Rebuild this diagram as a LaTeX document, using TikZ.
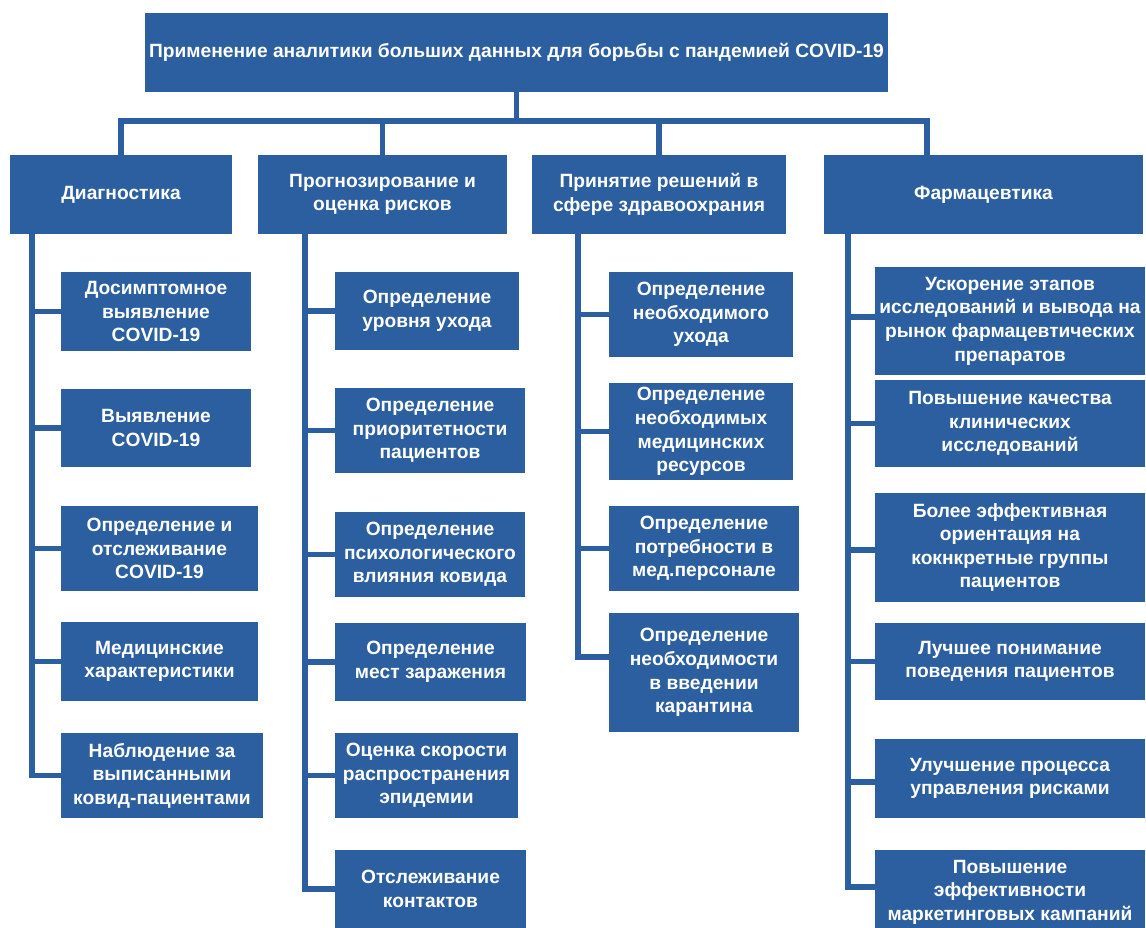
\documentclass[tikz,border=0pt]{standalone}
\usepackage{fontspec}
\setmainfont{Liberation Sans}
\definecolor{boxblue}{RGB}{44,95,160}
\tikzset{
  box/.style={fill=boxblue, text=white, inner sep=0pt, align=center,
    font=\fontsize{19.2}{23.6}\selectfont\bfseries},
  sz/.style 2 args={minimum width=#1, minimum height=#2},
  conn/.style={draw=boxblue, line width=5.5pt, line cap=rect, line join=miter}
}
\begin{document}
\begin{tikzpicture}[x=1pt,y=-1pt]
\useasboundingbox (0,0) rectangle (1146,928);
\clip (0,0) rectangle (1146,928);
% title
\node[box, sz={743pt}{79pt}] (title) at (516.5,52.5) {\raisebox{5pt}{Применение аналитики больших данных для борьбы с пандемией COVID-19}};
% level 2
\node[box, sz={222pt}{79pt}] (diag) at (121,194.5) {Диагностика};
\node[box, sz={249pt}{79pt}] (prog) at (382.5,194.5) {Прогнозирование и\\оценка рисков};
\node[box, sz={254pt}{79pt}] (prin) at (659,194.5) {Принятие решений в\\сфере здравоохрания};
\node[box, sz={319pt}{79pt}] (farm) at (983.5,194.5) {Фармацевтика};
\coordinate (bar) at (516.5,121);
% diag children
\node[box, sz={190pt}{79pt}] (d1) at (156,311.5) {Досимптомное\\выявление\\COVID-19};
\node[box, sz={190pt}{78pt}] (d2) at (156,428) {Выявление\\COVID-19};
\node[box, sz={197pt}{85pt}] (d3) at (159.5,548.5) {Определение и\\отслеживание\\COVID-19};
\node[box, sz={197pt}{79pt}] (d4) at (159.5,661.5) {Медицинские\\характеристики};
\node[box, sz={202pt}{85pt}] (d5) at (162,775.5) {Наблюдение за\\выписанными\\ковид-пациентами};
% prog children
\node[box, sz={184pt}{78pt}] (p1) at (427,311) {Определение\\уровня ухода};
\node[box, sz={190pt}{85pt}] (p2) at (430,430.5) {Определение\\приоритетности\\пациентов};
\node[box, sz={190pt}{85pt}] (p3) at (430,554.5) {Определение\\психологического\\влияния ковида};
\node[box, sz={191pt}{78pt}] (p4) at (430.5,662) {Определение\\мест заражения};
\node[box, sz={183pt}{85pt}] (p5) at (426.5,775.5) {Оценка скорости\\распространения\\эпидемии};
\node[box, sz={191pt}{78pt}] (p6) at (430.5,889) {Отслеживание\\контактов};
% prin children
\node[box, sz={184pt}{85pt}] (r1) at (701,314.5) {Определение\\необходимого\\ухода};
\node[box, sz={184pt}{97pt}] (r2) at (701,431.5) {Определение\\необходимых\\медицинских\\ресурсов};
\node[box, sz={190pt}{85pt}] (r3) at (704,548.5) {Определение\\потребности в\\мед.персонале};
\node[box, sz={190pt}{119pt}] (r4) at (704,672.5) {Определение\\необходимости\\в введении\\карантина};
% farm children
\node[box, sz={270pt}{108pt}] (f1) at (1010,321) {Ускорение этапов\\исследований и вывода на\\рынок фармацевтических\\препаратов};
\node[box, sz={270pt}{87pt}] (f2) at (1010,423.5) {Повышение качества\\клинических\\исследований};
\node[box, sz={270pt}{109pt}] (f3) at (1010,547.5) {Более эффективная\\ориентация на\\кокнкретные группы\\пациентов};
\node[box, sz={270pt}{77pt}] (f4) at (1010,661.5) {Лучшее понимание\\поведения пациентов};
\node[box, sz={270pt}{79pt}] (f5) at (1010,778.5) {Улучшение процесса\\управления рисками};
\node[box, sz={270pt}{84pt}] (f6) at (1010,892) {Повышение\\эффективности\\маркетинговых кампаний};
% top connectors
\draw[conn] (title.south) -- (title.south |- bar);
\draw[conn] (diag.north) |- (bar);
\draw[conn] (prog.north) |- (bar);
\draw[conn] (prin.north) |- (bar);
\draw[conn] ([xshift=-56.5pt]farm.north) |- (bar);
% spines
\foreach \c in {d1,d2,d3,d4,d5} \draw[conn] ([xshift=22pt]diag.south west) |- (\c.west);
\foreach \c in {p1,p2,p3,p4,p5,p6} \draw[conn] ([xshift=47pt]prog.south west) |- (\c.west);
\foreach \c in {r1,r2,r3} \draw[conn] ([xshift=46pt]prin.south west) |- (\c.west);
\draw[conn] ([xshift=46pt]prin.south west) |- ([yshift=15.5pt]r4.west);
\draw[conn] ([xshift=24pt]farm.south west) |- ([yshift=4pt]f1.west);
\draw[conn] ([xshift=24pt]farm.south west) |- (f2.west);
\draw[conn] ([xshift=24pt]farm.south west) |- ([yshift=-2.5pt]f3.west);
\draw[conn] ([xshift=24pt]farm.south west) |- (f4.west);
\draw[conn] ([xshift=24pt]farm.south west) |- ([yshift=-3.5pt]f5.west);
\draw[conn] ([xshift=24pt]farm.south west) |- ([yshift=5pt]f6.west);
\end{tikzpicture}
\end{document}
